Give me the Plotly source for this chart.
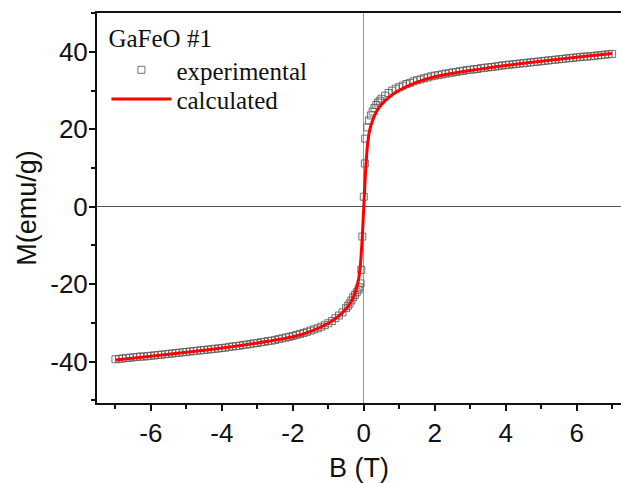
import plotly.graph_objects as go

exp_B = [7.0, 6.9, 6.8, 6.7, 6.6, 6.5, 6.4, 6.3, 6.2, 6.1, 6.0, 5.9, 5.8, 5.7, 5.6, 5.5, 5.4, 5.3, 5.2, 5.1,
         5.0, 4.9, 4.8, 4.7, 4.6, 4.5, 4.4, 4.3, 4.2, 4.1, 4.0, 3.9, 3.8, 3.7, 3.6, 3.5, 3.4, 3.3, 3.2, 3.1,
         3.0, 2.9, 2.8, 2.7, 2.6, 2.5, 2.4, 2.3, 2.2, 2.1, 2.0, 1.9, 1.8, 1.7, 1.6, 1.5, 1.4, 1.3, 1.2, 1.1,
         1.0, 0.9, 0.8, 0.7, 0.6, 0.5, 0.45, 0.4, 0.35, 0.3, 0.25, 0.2, 0.15, 0.1, 0.04, 0.03, 0.0,
         -0.04, -0.07, -0.09, -0.12, -0.15, -0.2, -0.25, -0.3, -0.35, -0.4, -0.45, -0.5, -0.6, -0.7, -0.8, -0.9,
         -1.0, -1.1, -1.2, -1.3, -1.4, -1.5, -1.6, -1.7, -1.8, -1.9, -2.0, -2.1, -2.2, -2.3, -2.4, -2.5,
         -2.6, -2.7, -2.8, -2.9, -3.0, -3.1, -3.2, -3.3, -3.4, -3.5, -3.6, -3.7, -3.8, -3.9, -4.0,
         -4.1, -4.2, -4.3, -4.4, -4.5, -4.6, -4.7, -4.8, -4.9, -5.0, -5.1, -5.2, -5.3, -5.4, -5.5,
         -5.6, -5.7, -5.8, -5.9, -6.0, -6.1, -6.2, -6.3, -6.4, -6.5, -6.6, -6.7, -6.8, -6.9, -7.0]
exp_M = [39.5, 39.4, 39.3, 39.2, 39.1, 39.0, 38.9, 38.8, 38.8, 38.7, 38.6, 38.5, 38.4, 38.3, 38.2, 38.1, 38.0, 37.9, 37.8, 37.7,
         37.6, 37.5, 37.4, 37.3, 37.2, 37.1, 37.0, 36.9, 36.8, 36.7, 36.6, 36.5, 36.4, 36.2, 36.1, 36.0, 35.9, 35.8, 35.6, 35.5,
         35.4, 35.3, 35.1, 35.0, 34.8, 34.7, 34.5, 34.4, 34.2, 34.0, 33.9, 33.7, 33.4, 33.2, 32.9, 32.7, 32.4, 32.0, 31.7, 31.3,
         30.9, 30.5, 30.0, 29.4, 28.7, 27.9, 27.4, 26.9, 26.3, 25.5, 24.6, 23.6, 22.3, 20.5, 17.6, 11.2, 2.6,
         -7.7, -16.3, -19.8, -20.8, -21.4, -22.1, -22.8, -23.4, -24.2, -25.0, -25.6, -26.2, -27.3, -28.1, -28.8, -29.5,
         -30.1, -30.6, -31.0, -31.4, -31.7, -32.0, -32.3, -32.6, -32.9, -33.1, -33.4, -33.6, -33.8, -34.0, -34.2, -34.4,
         -34.6, -34.7, -34.9, -35.0, -35.2, -35.3, -35.5, -35.6, -35.7, -35.9, -36.0, -36.1, -36.2, -36.4, -36.5,
         -36.6, -36.7, -36.8, -36.9, -37.0, -37.1, -37.2, -37.3, -37.4, -37.5, -37.6, -37.7, -37.8, -37.9, -38.0,
         -38.1, -38.2, -38.3, -38.4, -38.5, -38.6, -38.7, -38.7, -38.8, -38.9, -39.0, -39.1, -39.2, -39.3, -39.4]

# Calculated curve
calc_B = [-7, -6, -5, -4, -3, -2, -1.5, -1.0, -0.7, -0.5, -0.4, -0.3, -0.2, -0.15, -0.1, -0.05, -0.02, 0,
          0.02, 0.05, 0.1, 0.15, 0.2, 0.3, 0.4, 0.5, 0.7, 1.0, 1.5, 2, 3, 4, 5, 6, 7]
calc_M = [-39.6, -38.6, -37.6, -36.5, -35.2, -33.6, -32.2, -30.1, -28.2, -26.4, -25.2, -23.5, -21.0, -19.0, -15.5, -9.0, -3.8, 0,
          3.8, 9.0, 15.5, 19.0, 21.0, 23.5, 25.2, 26.4, 28.2, 30.1, 32.2, 33.6, 35.2, 36.5, 37.6, 38.6, 39.6]

x_tickvals = [-6, -4, -2, 0, 2, 4, 6]
x_ticktext = ["-6", "-4", "-2", "0", "2", "4", "6"]
y_tickvals = [-40, -20, 0, 20, 40]
y_ticktext = ["-40", "-20", "0", "20", "40"]

SERIF = "Liberation Serif, Times New Roman, serif"
SANS = "Liberation Sans, Arial, sans-serif"

fig = go.Figure()
fig.add_trace(go.Scatter(
    x=exp_B, y=exp_M, mode="markers", name="experimental", legend="legend",
    marker=dict(symbol="square-open", size=7, color="rgba(90,90,90,0.85)", line=dict(width=1)),
))
fig.add_trace(go.Scatter(
    x=calc_B, y=calc_M, mode="lines", name="calculated", legend="legend2",
    line=dict(color="#ff0000", width=3, shape="spline", smoothing=0.6),
))

axis_font = dict(family=SANS, size=26, color="#111")
title_font = dict(family=SANS, size=27, color="#111")
fig.update_layout(
    width=621, height=483,
    margin=dict(l=97, r=0, t=13, b=80),
    paper_bgcolor="white", plot_bgcolor="white",
    showlegend=True,
    legend=dict(
        title=dict(text="GaFeO #1", font=dict(family=SERIF, size=25, color="#111")),
        font=dict(family=SERIF, size=25, color="#111"),
        x=0.018, y=0.996, xanchor="left", yanchor="top",
        bgcolor="rgba(0,0,0,0)", itemwidth=60,
    ),
    legend2=dict(
        font=dict(family=SERIF, size=25, color="#111"),
        x=0.018, y=0.838, xanchor="left", yanchor="top",
        bgcolor="rgba(0,0,0,0)", itemwidth=60,
    ),
    xaxis=dict(
        range=[-7.52, 7.25], tickvals=x_tickvals, ticktext=x_ticktext, ticks="outside", ticklen=6, tickwidth=1.5,
        tickcolor="#111", showline=True, linecolor="#111", linewidth=2, mirror=True,
        showgrid=False, zeroline=True, zerolinecolor="#999", zerolinewidth=1,
        minor=dict(dtick=1, tick0=0, ticks="outside", ticklen=4, tickcolor="#111", showgrid=False),
        tickfont=axis_font,
        title=dict(text="B (T)", font=title_font, standoff=12),
    ),
    yaxis=dict(
        range=[-50.7, 50.06], tickvals=y_tickvals, ticktext=y_ticktext, ticks="outside", ticklen=6, tickwidth=1.5,
        tickcolor="#111", showline=True, linecolor="#111", linewidth=2, mirror=False,
        showgrid=False, zeroline=True, zerolinecolor="#555", zerolinewidth=1,
        minor=dict(dtick=10, tick0=0, ticks="outside", ticklen=4, tickcolor="#111", showgrid=False),
        tickfont=axis_font, ticklabelstandoff=-4,
        title=dict(text="M(emu/g)", font=title_font, standoff=6),
    ),
)

fig.write_html("out.html")
